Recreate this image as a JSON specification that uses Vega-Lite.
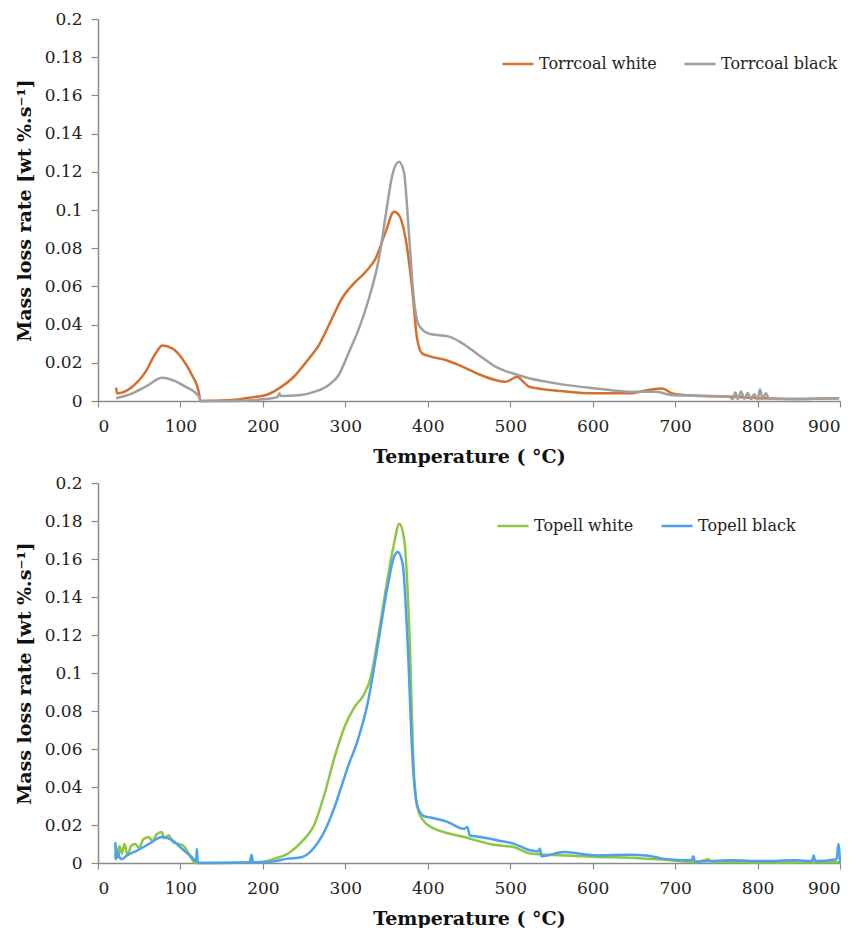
{
  "$schema": "https://vega.github.io/schema/vega-lite/v6.json",
  "background": "white",
  "padding": {"left": 15, "top": 10, "right": 10, "bottom": 0},
  "spacing": 8,
  "config": {
    "view": {"stroke": null},
    "font": "DejaVu Serif",
    "axis": {
      "grid": false,
      "domainColor": "#8a8a8a",
      "tickColor": "#8a8a8a",
      "domainWidth": 1.5,
      "tickWidth": 1.2,
      "labelFont": "DejaVu Serif",
      "labelFontSize": 17,
      "labelColor": "#222222",
      "titleFont": "DejaVu Serif",
      "titleFontSize": 19,
      "titleFontWeight": "bold",
      "titleColor": "#111111"
    },
    "axisX": {"tickSize": 6, "labelPadding": 11, "titlePadding": 13},
    "axisY": {"tickSize": 7, "labelPadding": 9, "titlePadding": 10},
    "legend": {
      "labelFont": "DejaVu Serif",
      "labelFontSize": 16,
      "labelColor": "#222222",
      "symbolType": "stroke",
      "symbolSize": 961,
      "symbolStrokeWidth": 2.5,
      "labelOffset": 4,
      "columnPadding": 22,
      "padding": 0
    }
  },
  "datasets": {
    "torr": [
      {"T": 22, "v": 0.007, "s": "Torrcoal white"},
      {"T": 23, "v": 0.004, "s": "Torrcoal white"},
      {"T": 41.6, "v": 0.0075, "s": "Torrcoal white"},
      {"T": 57.8, "v": 0.0154, "s": "Torrcoal white"},
      {"T": 70, "v": 0.025, "s": "Torrcoal white"},
      {"T": 78, "v": 0.029, "s": "Torrcoal white"},
      {"T": 90, "v": 0.0276, "s": "Torrcoal white"},
      {"T": 102, "v": 0.0223, "s": "Torrcoal white"},
      {"T": 114, "v": 0.0136, "s": "Torrcoal white"},
      {"T": 122.5, "v": 0.004, "s": "Torrcoal white"},
      {"T": 124, "v": 0, "s": "Torrcoal white"},
      {"T": 163, "v": 0.0005, "s": "Torrcoal white"},
      {"T": 187, "v": 0.002, "s": "Torrcoal white"},
      {"T": 203, "v": 0.003, "s": "Torrcoal white"},
      {"T": 219.6, "v": 0.0066, "s": "Torrcoal white"},
      {"T": 235.7, "v": 0.0119, "s": "Torrcoal white"},
      {"T": 256, "v": 0.0223, "s": "Torrcoal white"},
      {"T": 268, "v": 0.0293, "s": "Torrcoal white"},
      {"T": 284, "v": 0.0433, "s": "Torrcoal white"},
      {"T": 296, "v": 0.0538, "s": "Torrcoal white"},
      {"T": 308.5, "v": 0.0607, "s": "Torrcoal white"},
      {"T": 324.7, "v": 0.0677, "s": "Torrcoal white"},
      {"T": 336.8, "v": 0.0747, "s": "Torrcoal white"},
      {"T": 349, "v": 0.0887, "s": "Torrcoal white"},
      {"T": 359, "v": 0.0991, "s": "Torrcoal white"},
      {"T": 365, "v": 0.0974, "s": "Torrcoal white"},
      {"T": 373, "v": 0.0852, "s": "Torrcoal white"},
      {"T": 381, "v": 0.059, "s": "Torrcoal white"},
      {"T": 387, "v": 0.0328, "s": "Torrcoal white"},
      {"T": 393, "v": 0.025, "s": "Torrcoal white"},
      {"T": 401.5, "v": 0.0235, "s": "Torrcoal white"},
      {"T": 421.7, "v": 0.0215, "s": "Torrcoal white"},
      {"T": 442, "v": 0.018, "s": "Torrcoal white"},
      {"T": 462, "v": 0.014, "s": "Torrcoal white"},
      {"T": 482, "v": 0.011, "s": "Torrcoal white"},
      {"T": 494.6, "v": 0.0101, "s": "Torrcoal white"},
      {"T": 508.6, "v": 0.0127, "s": "Torrcoal white"},
      {"T": 516, "v": 0.010, "s": "Torrcoal white"},
      {"T": 522.8, "v": 0.0075, "s": "Torrcoal white"},
      {"T": 563, "v": 0.0052, "s": "Torrcoal white"},
      {"T": 603.7, "v": 0.004, "s": "Torrcoal white"},
      {"T": 644, "v": 0.004, "s": "Torrcoal white"},
      {"T": 668, "v": 0.0058, "s": "Torrcoal white"},
      {"T": 684.5, "v": 0.0066, "s": "Torrcoal white"},
      {"T": 696.6, "v": 0.004, "s": "Torrcoal white"},
      {"T": 725, "v": 0.0028, "s": "Torrcoal white"},
      {"T": 765, "v": 0.0023, "s": "Torrcoal white"},
      {"T": 806, "v": 0.0014, "s": "Torrcoal white"},
      {"T": 846, "v": 0.001, "s": "Torrcoal white"},
      {"T": 899, "v": 0.0014, "s": "Torrcoal white"},
      {"T": 22, "v": 0.0014, "s": "Torrcoal black"},
      {"T": 41.6, "v": 0.004, "s": "Torrcoal black"},
      {"T": 57.8, "v": 0.0075, "s": "Torrcoal black"},
      {"T": 78, "v": 0.0122, "s": "Torrcoal black"},
      {"T": 90, "v": 0.011, "s": "Torrcoal black"},
      {"T": 106, "v": 0.0075, "s": "Torrcoal black"},
      {"T": 122.5, "v": 0.0023, "s": "Torrcoal black"},
      {"T": 125, "v": 0, "s": "Torrcoal black"},
      {"T": 163, "v": 0, "s": "Torrcoal black"},
      {"T": 203, "v": 0.001, "s": "Torrcoal black"},
      {"T": 218, "v": 0.0022, "s": "Torrcoal black"},
      {"T": 220, "v": 0.004, "s": "Torrcoal black"},
      {"T": 222, "v": 0.0026, "s": "Torrcoal black"},
      {"T": 244, "v": 0.003, "s": "Torrcoal black"},
      {"T": 264, "v": 0.005, "s": "Torrcoal black"},
      {"T": 280, "v": 0.0084, "s": "Torrcoal black"},
      {"T": 292, "v": 0.0136, "s": "Torrcoal black"},
      {"T": 304.5, "v": 0.0258, "s": "Torrcoal black"},
      {"T": 316.6, "v": 0.038, "s": "Torrcoal black"},
      {"T": 328.7, "v": 0.0538, "s": "Torrcoal black"},
      {"T": 340.8, "v": 0.0747, "s": "Torrcoal black"},
      {"T": 349, "v": 0.0974, "s": "Torrcoal black"},
      {"T": 357, "v": 0.1183, "s": "Torrcoal black"},
      {"T": 365, "v": 0.1253, "s": "Torrcoal black"},
      {"T": 371, "v": 0.12, "s": "Torrcoal black"},
      {"T": 377, "v": 0.0887, "s": "Torrcoal black"},
      {"T": 383, "v": 0.0538, "s": "Torrcoal black"},
      {"T": 389, "v": 0.0398, "s": "Torrcoal black"},
      {"T": 401.5, "v": 0.0352, "s": "Torrcoal black"},
      {"T": 425.8, "v": 0.0337, "s": "Torrcoal black"},
      {"T": 442, "v": 0.0302, "s": "Torrcoal black"},
      {"T": 462, "v": 0.024, "s": "Torrcoal black"},
      {"T": 482, "v": 0.018, "s": "Torrcoal black"},
      {"T": 502.5, "v": 0.0145, "s": "Torrcoal black"},
      {"T": 523, "v": 0.0119, "s": "Torrcoal black"},
      {"T": 563, "v": 0.0087, "s": "Torrcoal black"},
      {"T": 604, "v": 0.0066, "s": "Torrcoal black"},
      {"T": 644, "v": 0.0049, "s": "Torrcoal black"},
      {"T": 676.5, "v": 0.0049, "s": "Torrcoal black"},
      {"T": 697, "v": 0.003, "s": "Torrcoal black"},
      {"T": 725, "v": 0.0028, "s": "Torrcoal black"},
      {"T": 765, "v": 0.0023, "s": "Torrcoal black"},
      {"T": 770, "v": 0.001, "s": "Torrcoal black"},
      {"T": 773, "v": 0.0045, "s": "Torrcoal black"},
      {"T": 776, "v": 0.001, "s": "Torrcoal black"},
      {"T": 780, "v": 0.005, "s": "Torrcoal black"},
      {"T": 784, "v": 0.0012, "s": "Torrcoal black"},
      {"T": 788, "v": 0.0042, "s": "Torrcoal black"},
      {"T": 792, "v": 0.001, "s": "Torrcoal black"},
      {"T": 796, "v": 0.0035, "s": "Torrcoal black"},
      {"T": 800, "v": 0.0008, "s": "Torrcoal black"},
      {"T": 803, "v": 0.0062, "s": "Torrcoal black"},
      {"T": 806, "v": 0.001, "s": "Torrcoal black"},
      {"T": 810, "v": 0.004, "s": "Torrcoal black"},
      {"T": 814, "v": 0.0012, "s": "Torrcoal black"},
      {"T": 846, "v": 0.001, "s": "Torrcoal black"},
      {"T": 899, "v": 0.0014, "s": "Torrcoal black"}
    ],
    "topell": [
      {"T": 21, "v": 0.002, "s": "Topell white"},
      {"T": 22, "v": 0.0084, "s": "Topell white"},
      {"T": 24, "v": 0.003, "s": "Topell white"},
      {"T": 26, "v": 0.009, "s": "Topell white"},
      {"T": 29, "v": 0.005, "s": "Topell white"},
      {"T": 32, "v": 0.01, "s": "Topell white"},
      {"T": 36, "v": 0.004, "s": "Topell white"},
      {"T": 40, "v": 0.009, "s": "Topell white"},
      {"T": 45, "v": 0.010, "s": "Topell white"},
      {"T": 50, "v": 0.008, "s": "Topell white"},
      {"T": 55, "v": 0.0125, "s": "Topell white"},
      {"T": 61.6, "v": 0.0137, "s": "Topell white"},
      {"T": 66, "v": 0.0115, "s": "Topell white"},
      {"T": 71, "v": 0.015, "s": "Topell white"},
      {"T": 77.6, "v": 0.0163, "s": "Topell white"},
      {"T": 80, "v": 0.013, "s": "Topell white"},
      {"T": 85.7, "v": 0.0146, "s": "Topell white"},
      {"T": 91, "v": 0.011, "s": "Topell white"},
      {"T": 97.8, "v": 0.010, "s": "Topell white"},
      {"T": 104, "v": 0.009, "s": "Topell white"},
      {"T": 110, "v": 0.005, "s": "Topell white"},
      {"T": 118, "v": 0, "s": "Topell white"},
      {"T": 198, "v": 0.0005, "s": "Topell white"},
      {"T": 214.5, "v": 0.0023, "s": "Topell white"},
      {"T": 230.6, "v": 0.005, "s": "Topell white"},
      {"T": 246.7, "v": 0.011, "s": "Topell white"},
      {"T": 262.8, "v": 0.0207, "s": "Topell white"},
      {"T": 274.9, "v": 0.0365, "s": "Topell white"},
      {"T": 287, "v": 0.0558, "s": "Topell white"},
      {"T": 299, "v": 0.0716, "s": "Topell white"},
      {"T": 311, "v": 0.082, "s": "Topell white"},
      {"T": 323, "v": 0.089, "s": "Topell white"},
      {"T": 331, "v": 0.098, "s": "Topell white"},
      {"T": 339, "v": 0.117, "s": "Topell white"},
      {"T": 351, "v": 0.149, "s": "Topell white"},
      {"T": 359, "v": 0.168, "s": "Topell white"},
      {"T": 365.4, "v": 0.1786, "s": "Topell white"},
      {"T": 371.5, "v": 0.170, "s": "Topell white"},
      {"T": 377.5, "v": 0.124, "s": "Topell white"},
      {"T": 383.5, "v": 0.045, "s": "Topell white"},
      {"T": 389.6, "v": 0.026, "s": "Topell white"},
      {"T": 403.7, "v": 0.019, "s": "Topell white"},
      {"T": 444, "v": 0.0137, "s": "Topell white"},
      {"T": 484, "v": 0.0093, "s": "Topell white"},
      {"T": 504, "v": 0.0084, "s": "Topell white"},
      {"T": 524, "v": 0.005, "s": "Topell white"},
      {"T": 565, "v": 0.004, "s": "Topell white"},
      {"T": 605, "v": 0.0032, "s": "Topell white"},
      {"T": 645, "v": 0.0028, "s": "Topell white"},
      {"T": 685, "v": 0.0018, "s": "Topell white"},
      {"T": 726, "v": 0.0005, "s": "Topell white"},
      {"T": 740, "v": 0.002, "s": "Topell white"},
      {"T": 745, "v": 0.0005, "s": "Topell white"},
      {"T": 766, "v": 0.0005, "s": "Topell white"},
      {"T": 806, "v": 0.0002, "s": "Topell white"},
      {"T": 900, "v": 0.0004, "s": "Topell white"},
      {"T": 21, "v": 0.011, "s": "Topell black"},
      {"T": 22, "v": 0.002, "s": "Topell black"},
      {"T": 24, "v": 0.006, "s": "Topell black"},
      {"T": 26, "v": 0.003, "s": "Topell black"},
      {"T": 29, "v": 0.002, "s": "Topell black"},
      {"T": 35, "v": 0.004, "s": "Topell black"},
      {"T": 45, "v": 0.006, "s": "Topell black"},
      {"T": 61.6, "v": 0.010, "s": "Topell black"},
      {"T": 77.6, "v": 0.0137, "s": "Topell black"},
      {"T": 89.7, "v": 0.012, "s": "Topell black"},
      {"T": 101.8, "v": 0.0075, "s": "Topell black"},
      {"T": 114, "v": 0.003, "s": "Topell black"},
      {"T": 119, "v": 0.001, "s": "Topell black"},
      {"T": 120, "v": 0.0075, "s": "Topell black"},
      {"T": 121, "v": 0, "s": "Topell black"},
      {"T": 184, "v": 0.0003, "s": "Topell black"},
      {"T": 186.3, "v": 0.0044, "s": "Topell black"},
      {"T": 188, "v": 0.0003, "s": "Topell black"},
      {"T": 206.6, "v": 0.0005, "s": "Topell black"},
      {"T": 230.6, "v": 0.0023, "s": "Topell black"},
      {"T": 246.7, "v": 0.003, "s": "Topell black"},
      {"T": 262.8, "v": 0.0084, "s": "Topell black"},
      {"T": 279, "v": 0.0207, "s": "Topell black"},
      {"T": 287, "v": 0.0295, "s": "Topell black"},
      {"T": 295, "v": 0.040, "s": "Topell black"},
      {"T": 303, "v": 0.0505, "s": "Topell black"},
      {"T": 315, "v": 0.0646, "s": "Topell black"},
      {"T": 327, "v": 0.0839, "s": "Topell black"},
      {"T": 339, "v": 0.1137, "s": "Topell black"},
      {"T": 351, "v": 0.145, "s": "Topell black"},
      {"T": 359, "v": 0.161, "s": "Topell black"},
      {"T": 363.5, "v": 0.1637, "s": "Topell black"},
      {"T": 369.5, "v": 0.1575, "s": "Topell black"},
      {"T": 375.6, "v": 0.1154, "s": "Topell black"},
      {"T": 381.6, "v": 0.054, "s": "Topell black"},
      {"T": 387.6, "v": 0.0295, "s": "Topell black"},
      {"T": 395.6, "v": 0.0246, "s": "Topell black"},
      {"T": 403.7, "v": 0.0239, "s": "Topell black"},
      {"T": 424, "v": 0.0216, "s": "Topell black"},
      {"T": 444, "v": 0.018, "s": "Topell black"},
      {"T": 448, "v": 0.019, "s": "Topell black"},
      {"T": 451, "v": 0.0145, "s": "Topell black"},
      {"T": 464, "v": 0.0137, "s": "Topell black"},
      {"T": 484, "v": 0.012, "s": "Topell black"},
      {"T": 504, "v": 0.0102, "s": "Topell black"},
      {"T": 524, "v": 0.0067, "s": "Topell black"},
      {"T": 534, "v": 0.0062, "s": "Topell black"},
      {"T": 536, "v": 0.0075, "s": "Topell black"},
      {"T": 538, "v": 0.0035, "s": "Topell black"},
      {"T": 565, "v": 0.0058, "s": "Topell black"},
      {"T": 605, "v": 0.004, "s": "Topell black"},
      {"T": 645, "v": 0.0044, "s": "Topell black"},
      {"T": 665, "v": 0.004, "s": "Topell black"},
      {"T": 685, "v": 0.0023, "s": "Topell black"},
      {"T": 720, "v": 0.0015, "s": "Topell black"},
      {"T": 722, "v": 0.0035, "s": "Topell black"},
      {"T": 724, "v": 0.0008, "s": "Topell black"},
      {"T": 766, "v": 0.0014, "s": "Topell black"},
      {"T": 806, "v": 0.001, "s": "Topell black"},
      {"T": 846, "v": 0.0014, "s": "Topell black"},
      {"T": 866, "v": 0.001, "s": "Topell black"},
      {"T": 868, "v": 0.004, "s": "Topell black"},
      {"T": 870, "v": 0.001, "s": "Topell black"},
      {"T": 896, "v": 0.002, "s": "Topell black"},
      {"T": 898, "v": 0.010, "s": "Topell black"},
      {"T": 900, "v": 0, "s": "Topell black"}
    ]
  },
  "resolve": {"scale": {"color": "independent"}, "legend": {"color": "independent"}},
  "vconcat": [
    {
      "width": 742,
      "height": 382,
      "data": {"name": "torr"},
      "mark": {"type": "line", "strokeWidth": 2.5, "interpolate": "monotone"},
      "encoding": {
        "x": {"field": "T", "type": "quantitative", "scale": {"domain": [0, 900], "nice": false},
              "axis": {"values": [0, 100, 200, 300, 400, 500, 600, 700, 800, 900], "format": "d", "title": "Temperature ( °C)"}},
        "y": {"field": "v", "type": "quantitative", "scale": {"domain": [0, 0.2], "nice": false},
              "axis": {"values": [0, 0.02, 0.04, 0.06, 0.08, 0.1, 0.12, 0.14, 0.16, 0.18, 0.2], "format": "~g", "title": "Mass loss rate [wt %.s⁻¹]"}},
        "color": {"field": "s", "type": "nominal",
                  "scale": {"domain": ["Torrcoal white", "Torrcoal black"], "range": ["#D5702C", "#A0A0A0"]},
                  "legend": {"title": null, "orient": "none", "direction": "horizontal", "legendX": 403, "legendY": 28}}
      }
    },
    {
      "width": 742,
      "height": 380,
      "data": {"name": "topell"},
      "mark": {"type": "line", "strokeWidth": 2.5, "interpolate": "monotone"},
      "encoding": {
        "x": {"field": "T", "type": "quantitative", "scale": {"domain": [0, 900], "nice": false},
              "axis": {"values": [0, 100, 200, 300, 400, 500, 600, 700, 800, 900], "format": "d", "title": "Temperature ( °C)"}},
        "y": {"field": "v", "type": "quantitative", "scale": {"domain": [0, 0.2], "nice": false},
              "axis": {"values": [0, 0.02, 0.04, 0.06, 0.08, 0.1, 0.12, 0.14, 0.16, 0.18, 0.2], "format": "~g", "title": "Mass loss rate [wt %.s⁻¹]"}},
        "color": {"field": "s", "type": "nominal",
                  "scale": {"domain": ["Topell white", "Topell black"], "range": ["#8DC640", "#4DA0EC"]},
                  "legend": {"title": null, "orient": "none", "direction": "horizontal", "legendX": 398, "legendY": 26}}
      }
    }
  ]
}
